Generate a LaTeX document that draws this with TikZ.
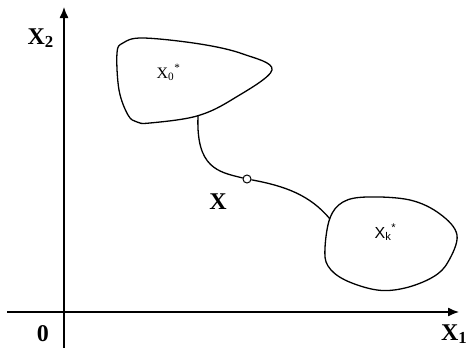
\documentclass[tikz,border=0pt]{standalone}
\usepackage{fontspec}
\setmainfont{Liberation Serif}
\setsansfont{Liberation Sans}
\usetikzlibrary{arrows.meta}

\begin{document}
\begin{tikzpicture}[x=1pt,y=-1pt,line width=1.3pt,
    axislabel/.style={font=\fontsize{24}{26}\selectfont\bfseries,inner sep=0pt},
    setlabel/.style={font=\fontsize{16}{18}\selectfont,inner sep=0pt},
    axisarrow/.style={-{Latex[length=11pt,width=9pt]}}]
  \useasboundingbox (0,0) rectangle (472,348);

  % axes
  \coordinate (O) at (64,312);
  \coordinate (A1) at (459,312);
  \coordinate (A2) at (64,7);
  \coordinate (L1) at (7,312);
  \coordinate (B2) at (64,348);
  \draw[axisarrow] (L1) -- (A1);
  \draw[axisarrow] (B2) -- (A2);

  \node[axislabel,anchor=base west] (x2) at (27,44) {X\textsubscript{2}};
  \node[axislabel,anchor=base east] (x1) at (468,340) {X\textsubscript{1}};
  \node[axislabel,anchor=base] (zero) at (43,341) {0};

  % start set
  \draw plot[smooth cycle,tension=0.6] coordinates {
    (117,53) (123,43) (143,38) (200,44) (243,54) (272,70)
    (233,99) (197,116) (150,123) (137,122) (128,115) (119,90)};
  % target set
  \draw plot[smooth cycle,tension=0.6] coordinates {
    (330,218) (343,202) (367,197) (410,200) (440,214) (457,235)
    (448,262) (433,277) (405,288) (377,290) (345,280) (328,266) (325,248)};

  \node[setlabel,anchor=base west] (x0) at (156,78) {X\textsubscript{0}\textsuperscript{*}};
  \node[setlabel,font=\fontsize{16}{18}\selectfont\sffamily,anchor=base west] (xk) at (374,238) {X\textsubscript{k}\textsuperscript{*}};

  % trajectory
  \coordinate (J1) at (198,116);
  \coordinate (J2) at (330,219);
  \node[circle,draw,fill=white,inner sep=0pt,minimum size=8pt,line width=1pt] (pt) at (247,179) {};
  \draw (J1) .. controls (196,168) and (218,172) .. (pt);
  \draw (pt) .. controls (285,186) and (310,195) .. (J2);

  \node[axislabel,anchor=base] (x) at (218,209) {X};
\end{tikzpicture}
\end{document}
